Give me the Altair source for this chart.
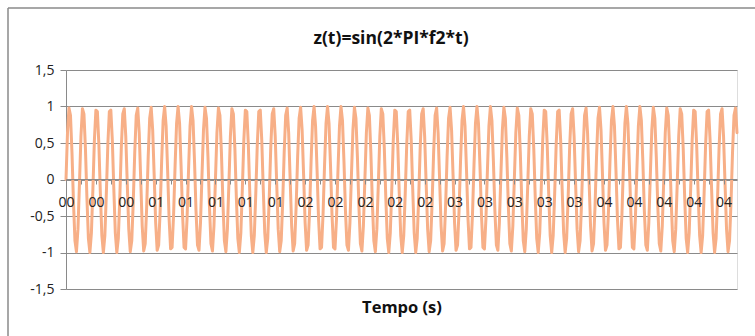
import altair as alt
import pandas as pd

TITLE = "z(t)=sin(2*PI*f2*t)"
X_TITLE = "Tempo (s)"

# sampled values z(t), one per category (t step of the sheet)
Z = [
    0, 0.64, 0.98, 0.88, 0.37, -0.31, -0.84, -0.99, -0.68, -0.06,
    0.59, 0.97, 0.90, 0.43, -0.25, -0.81, -1.00, -0.73, -0.13, 0.54,
    0.95, 0.93, 0.48, -0.19, -0.77, -1.00, -0.77, -0.19, 0.48, 0.93,
    0.95, 0.54, -0.13, -0.73, -1.00, -0.81, -0.25, 0.43, 0.90, 0.97,
    0.59, -0.06, -0.68, -0.99, -0.84, -0.31, 0.37, 0.88, 0.98, 0.64,
    0, -0.64, -0.98, -0.88, -0.37, 0.31, 0.84, 0.99, 0.68, 0.06,
    -0.59, -0.97, -0.90, -0.43, 0.25, 0.81, 1.00, 0.73, 0.13, -0.54,
    -0.95, -0.93, -0.48, 0.19, 0.77, 1.00, 0.77, 0.19, -0.48, -0.93,
    -0.95, -0.54, 0.13, 0.73, 1.00, 0.81, 0.25, -0.43, -0.90, -0.97,
    -0.59, 0.06, 0.68, 0.99, 0.84, 0.31, -0.37, -0.88, -0.98, -0.64,
    0, 0.64, 0.98, 0.88, 0.37, -0.31, -0.84, -0.99, -0.68, -0.06,
    0.59, 0.97, 0.90, 0.43, -0.25, -0.81, -1.00, -0.73, -0.13, 0.54,
    0.95, 0.93, 0.48, -0.19, -0.77, -1.00, -0.77, -0.19, 0.48, 0.93,
    0.95, 0.54, -0.13, -0.73, -1.00, -0.81, -0.25, 0.43, 0.90, 0.97,
    0.59, -0.06, -0.68, -0.99, -0.84, -0.31, 0.37, 0.88, 0.98, 0.64,
    0, -0.64, -0.98, -0.88, -0.37, 0.31, 0.84, 0.99, 0.68, 0.06,
    -0.59, -0.97, -0.90, -0.43, 0.25, 0.81, 1.00, 0.73, 0.13, -0.54,
    -0.95, -0.93, -0.48, 0.19, 0.77, 1.00, 0.77, 0.19, -0.48, -0.93,
    -0.95, -0.54, 0.13, 0.73, 1.00, 0.81, 0.25, -0.43, -0.90, -0.97,
    -0.59, 0.06, 0.68, 0.99, 0.84, 0.31, -0.37, -0.88, -0.98, -0.64,
    0, 0.64, 0.98, 0.88, 0.37, -0.31, -0.84, -0.99, -0.68, -0.06,
    0.59, 0.97, 0.90, 0.43, -0.25, -0.81, -1.00, -0.73, -0.13, 0.54,
    0.95, 0.93, 0.48, -0.19, -0.77, -1.00, -0.77, -0.19, 0.48, 0.93,
    0.95, 0.54, -0.13, -0.73, -1.00, -0.81, -0.25, 0.43, 0.90, 0.97,
    0.59, -0.06, -0.68, -0.99, -0.84, -0.31, 0.37, 0.88, 0.98, 0.64,
    0, -0.64, -0.98, -0.88, -0.37, 0.31, 0.84, 0.99, 0.68, 0.06,
    -0.59, -0.97, -0.90, -0.43, 0.25, 0.81, 1.00, 0.73, 0.13, -0.54,
    -0.95, -0.93, -0.48, 0.19, 0.77, 1.00, 0.77, 0.19, -0.48, -0.93,
    -0.95, -0.54, 0.13, 0.73, 1.00, 0.81, 0.25, -0.43, -0.90, -0.97,
    -0.59, 0.06, 0.68, 0.99, 0.84, 0.31, -0.37, -0.88, -0.98, -0.64,
    0, 0.64, 0.98, 0.88, 0.37, -0.31, -0.84, -0.99, -0.68, -0.06,
    0.59, 0.97, 0.90, 0.43, -0.25, -0.81, -1.00, -0.73, -0.13, 0.54,
    0.95, 0.93, 0.48, -0.19, -0.77, -1.00, -0.77, -0.19, 0.48, 0.93,
    0.95, 0.54, -0.13, -0.73, -1.00, -0.81, -0.25, 0.43, 0.90, 0.97,
    0.59, -0.06, -0.68, -0.99, -0.84, -0.31, 0.37, 0.88, 0.98, 0.64,
    0, -0.64, -0.98, -0.88, -0.37, 0.31, 0.84, 0.99, 0.68, 0.06,
    -0.59, -0.97, -0.90, -0.43, 0.25, 0.81, 1.00, 0.73, 0.13, -0.54,
    -0.95, -0.93, -0.48, 0.19, 0.77, 1.00, 0.77, 0.19, -0.48, -0.93,
    -0.95, -0.54, 0.13, 0.73, 1.00, 0.81, 0.25, -0.43, -0.90, -0.97,
    -0.59, 0.06, 0.68, 0.99, 0.84, 0.31, -0.37, -0.88, -0.98, -0.64,
    0, 0.64, 0.98, 0.88, 0.37, -0.31, -0.84, -0.99, -0.68, -0.06,
    0.59, 0.97, 0.90, 0.43, -0.25, -0.81, -1.00, -0.73, -0.13, 0.54,
    0.95, 0.93, 0.48, -0.19, -0.77, -1.00, -0.77, -0.19, 0.48, 0.93,
    0.95, 0.54, -0.13, -0.73, -1.00, -0.81, -0.25, 0.43, 0.90, 0.97,
    0.59, -0.06, -0.68, -0.99, -0.84, -0.31, 0.37, 0.88, 0.98, 0.64,
]

# category tick labels, one every 20 categories
X_LABELS = ["00", "00", "00", "01", "01", "01", "01", "01",
            "02", "02", "02", "02", "02", "03", "03", "03", "03", "03",
            "04", "04", "04", "04", "04"]
LABEL_STEP = 20
TICK_STEP = 10
Y_TICKS = [-1.5, -1, -0.5, 0, 0.5, 1, 1.5]

df = pd.DataFrame({"i": list(range(len(Z))), "z": Z})

lab_js = "[" + ",".join(f"'{s}'" for s in X_LABELS) + "]"
label_expr = f"datum.value % {LABEL_STEP} == 0 ? {lab_js}[datum.value / {LABEL_STEP}] : ''"

FONT = "Open Sans"
GRAY = "#8a8a8a"

line = alt.Chart(df).mark_line(
    color="#F7AF87", strokeWidth=3, strokeJoin="round", strokeCap="round"
).encode(
    x=alt.X(
        "i:Q",
        scale=alt.Scale(domain=[0, len(Z) - 1], nice=False, zero=False),
        axis=alt.Axis(
            values=list(range(0, len(X_LABELS) * LABEL_STEP, TICK_STEP)),
            labelExpr=label_expr,
            offset=-110,
            grid=False,
            domainColor=GRAY,
            tickColor=GRAY,
            tickSize=5,
            labelPadding=11,
            labelOverlap=False,
            labelFlush=False,
            labelBound=False,
            labelFont=FONT,
            labelFontSize=14,
            labelColor="#222222",
            title=X_TITLE,
            titleFont=FONT,
            titleFontSize=16.5,
            titleFontWeight="bold",
            titleColor="#111111",
            titleY=128,
            titleBaseline="middle",
            zindex=1,
        ),
    ),
    y=alt.Y(
        "z:Q",
        scale=alt.Scale(domain=[-1.5, 1.5], nice=False),
        axis=alt.Axis(
            values=Y_TICKS,
            labelExpr="replace(toString(datum.value), '.', ',')",
            grid=True,
            gridColor=GRAY,
            domainColor=GRAY,
            tickColor=GRAY,
            tickSize=6,
            labelPadding=6,
            labelFont=FONT,
            labelFontSize=14,
            labelColor="#222222",
            title=None,
        ),
    ),
)

one = alt.Data(values=[{}])
border_top = alt.Chart(one).mark_rule(color=GRAY, strokeWidth=1.5).encode(
    x=alt.value(-58), x2=alt.value(720), y=alt.value(-62)
)
border_left = alt.Chart(one).mark_rule(color=GRAY, strokeWidth=1.5).encode(
    x=alt.value(-58), y=alt.value(-62), y2=alt.value(300)
)
title_text = alt.Chart(one).mark_text(
    text=TITLE, font=FONT, fontSize=17.5, fontWeight="bold", color="#111111",
    align="center", baseline="middle",
).encode(x=alt.value(325), y=alt.value(-31))

chart = alt.layer(line, border_top, border_left, title_text).properties(
    width=671,
    height=219,
    autosize=alt.AutoSizeParams(type="none"),
    padding={"left": 66, "top": 70, "right": 18, "bottom": 47},
).configure_view(stroke=None).configure(background="white")

chart.save("out.html", embed_options={"renderer": "svg", "actions": False})
